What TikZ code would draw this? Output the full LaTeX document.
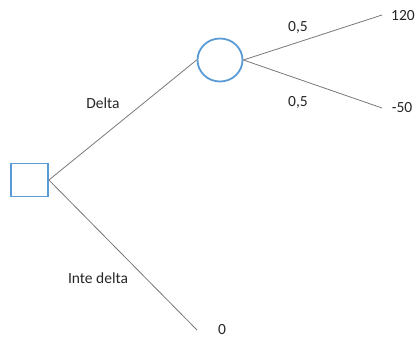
\documentclass[tikz,border=0pt]{standalone}
\usepackage{fontspec}
\setmainfont{Carlito}
\usetikzlibrary{shapes.geometric}
\definecolor{shapeblue}{RGB}{91,155,213}
\definecolor{linegray}{RGB}{120,120,120}
\begin{document}
\begin{tikzpicture}[x=1pt,y=-1pt,
  decision/.style={draw=shapeblue,line width=1.8pt,minimum width=37pt,minimum height=33pt,inner sep=0pt},
  chance/.style={draw=shapeblue,line width=1.8pt,ellipse,minimum width=45pt,minimum height=43pt,inner sep=0pt},
  branch/.style={draw=linegray,line width=0.8pt},
  lbl/.style={font=\fontsize{15.5}{18}\selectfont,text=black!85,inner sep=0pt}]
\useasboundingbox (0,0) rectangle (417,338);
% decision and chance nodes
\node[decision] (d) at (29.5,180) {};
\node[chance] (c) at (220,60) {};
% free ends of the branches
\coordinate (e120) at (382,15);
\coordinate (e50) at (382,108);
\coordinate (e0) at (197,330);
% branches
\draw[branch] (d.east) -- (c.west);
\draw[branch] (d.east) -- (e0);
\draw[branch] (c.east) -- (e120);
\draw[branch] (c.east) -- (e50);
% labels
\node[lbl] (ldelta) at (103,103) {Delta};
\node[lbl] (linte) at (98,278) {Inte delta};
\node[lbl] (lp1) at (298,27) {0,5};
\node[lbl] (lp2) at (298,102) {0,5};
\node[lbl] (v120) at (403,16) {120};
\node[lbl] (v50) at (402,108) {-50};
\node[lbl] (v0) at (222,330) {0};
\end{tikzpicture}
\end{document}
